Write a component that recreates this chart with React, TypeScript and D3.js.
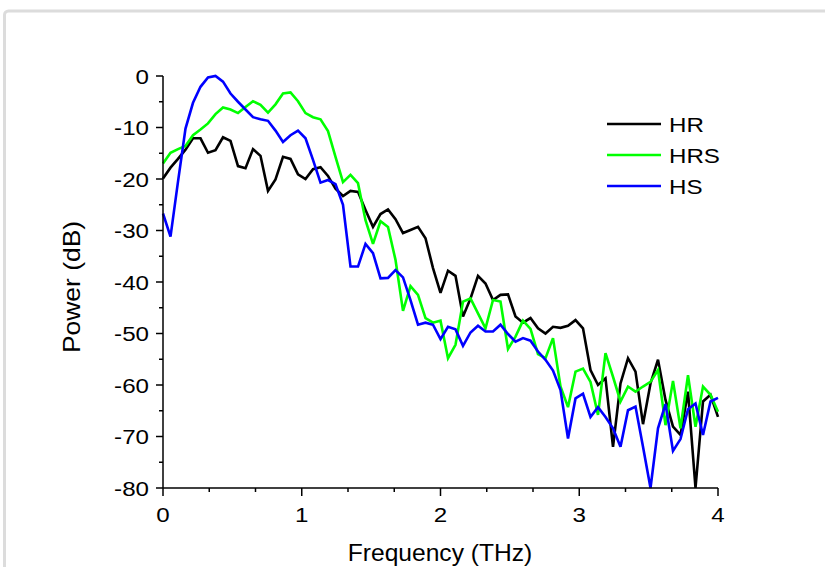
import React from "react";
import * as d3 from "d3";

const seriesNames = ["HR", "HRS", "HS"];
const seriesColors = ["#000000", "#00ff00", "#0000ff"];

const HR = [
  -19.9, -17.8, -16.1, -14.3, -12.1, -12.1, -14.9, -14.4, -11.9, -12.6,
  -17.5, -17.9, -14.2, -15.5, -22.3, -20.1, -15.7, -16.1, -19.1, -20,
  -18.1, -17.7, -19.4, -21.9, -23.3, -22.3, -22.5, -26, -29.3, -26.8,
  -25.9, -27.8, -30.5, -29.9, -29.3, -31.5, -37.3, -42.1, -37.8, -38.8,
  -46.7, -43.2, -38.8, -40.3, -43.5, -42.5, -42.4, -46.7, -47.9, -47,
  -49, -50, -48.7, -48.9, -48.5, -47.4, -49, -57.1, -60, -58.7,
  -72, -59.7, -54.8, -57.4, -67.6, -59.7, -55.1, -62.9, -68.1, -69.7,
  -61.3, -80, -63.2, -61.9, -66.2,
];

const HRS = [
  -17, -14.9, -14.2, -13.6, -11.5, -10.4, -9.2, -7.4, -6.1, -6.5,
  -7.2, -6, -4.9, -5.6, -7.1, -5.5, -3.4, -3.2, -4.9, -7.2,
  -8, -8.4, -10.7, -15.7, -20.6, -19.2, -20.8, -28, -32.6, -28.2,
  -29.3, -35.7, -45.6, -40.8, -42.5, -47, -47.9, -47.5, -54.8, -52.2,
  -43.8, -43.2, -46.1, -49, -43.5, -43.8, -53, -50.6, -47.5, -49.1,
  -54, -54.8, -50.9, -60.3, -64.3, -57.4, -56.8, -59.4, -65.8, -53.8,
  -58.4, -63.2, -60.3, -61.3, -60.3, -59.4, -57.1, -67.8, -59.2, -68.4,
  -58.1, -68.1, -60.3, -61.9, -65.2,
];

const HS = [
  -26.7, -31.2, -20.5, -10.2, -5.2, -2.1, -0.3, 0, -1.1, -3.4,
  -5, -6.5, -8, -8.4, -8.7, -10.6, -12.8, -11.5, -10.6, -12.1,
  -16.3, -20.7, -20.2, -21, -25, -37, -37, -32.6, -34.4, -39.3,
  -39.2, -37.7, -39.1, -43.5, -48.3, -47.9, -48.3, -51.1, -48.7, -49.2,
  -52.4, -49.8, -48.5, -49.6, -49.6, -48.3, -50.1, -51.6, -50.9, -51.4,
  -53.5, -55.1, -57.2, -61, -70.4, -62.6, -61.7, -66.2, -64.3, -66.2,
  -68.4, -72, -64.9, -64.2, -72, -80, -68.4, -63.7, -72.8, -70.5,
  -64.7, -63.6, -69.7, -63.2, -62.5,
];

const fMax = 4;
const nSteps = 74;
const xTicks = [0, 1, 2, 3, 4];
const yTicks = [0, -10, -20, -30, -40, -50, -60, -70, -80];
const xLabel = "Frequency (THz)";
const yLabel = "Power (dB)";

const W = 825;
const H = 567;
const FONT = "'Liberation Sans', Arial, Helvetica, sans-serif";

function SText({ x, y, size, sx = 1.15, anchor = "start", rotate = 0, children, dy = "0" }: any) {
  return (
    <g transform={`translate(${x},${y}) rotate(${rotate}) scale(${sx},1)`}>
      <text x={0} y={0} dy={dy} fontSize={size} fontFamily={FONT} textAnchor={anchor} fill="#000">
        {children}
      </text>
    </g>
  );
}

export default function App() {
  const left = 163, right = 718, top = 76, bottom = 488;
  const x = d3.scaleLinear().domain([0, fMax]).range([left, right]);
  const y = d3.scaleLinear().domain([-80, 0]).range([bottom, top]);
  const freqs = d3.range(nSteps + 1).map((i) => (i * fMax) / nSteps);
  const data = [HR, HRS, HS];
  const line = d3
    .line<number>()
    .x((_, i) => x(freqs[i]))
    .y((d) => y(d));

  const xMinor = d3.range(0, 12).map((i) => i / 3).filter((v) => Math.abs(v - Math.round(v)) > 1e-6);
  const yMinor = d3.range(-75, 0, 10);

  const legendX0 = 607, legendX1 = 661, legendY0 = 124, legendDy = 31;

  return (
    <svg width={W} height={H} style={{ position: "absolute", left: 0, top: 0, background: "#fff" }}>
      <rect x={0} y={0} width={W} height={H} fill="#fff" />
      <rect x={4.5} y={11} width={W + 40} height={H + 40} rx={4} fill="none" stroke="#dcdcdc" strokeWidth={3} />

      {/* lines */}
      {data.map((s, k) => (
        <path key={k} d={line(s) || ""} fill="none" stroke={seriesColors[k]} strokeWidth={2.6} strokeLinejoin="miter" strokeMiterlimit={3} />
      ))}

      {/* axes */}
      <line x1={left} x2={left} y1={top} y2={bottom} stroke="#000" strokeWidth={1.5} />
      <line x1={left} x2={right} y1={bottom} y2={bottom} stroke="#000" strokeWidth={1.5} />
      {xTicks.map((t) => (
        <g key={"xt" + t}>
          <line x1={x(t)} x2={x(t)} y1={bottom} y2={bottom + 8} stroke="#000" strokeWidth={1.5} />
          <SText x={x(t)} y={522} size={21} anchor="middle">{String(t)}</SText>
        </g>
      ))}
      {xMinor.map((t) => (
        <line key={"xm" + t} x1={x(t)} x2={x(t)} y1={bottom} y2={bottom + 4} stroke="#000" strokeWidth={1.5} />
      ))}
      {yTicks.map((t) => (
        <g key={"yt" + t}>
          <line x1={left - 7} x2={left} y1={y(t)} y2={y(t)} stroke="#000" strokeWidth={1.5} />
          <SText x={149} y={y(t)} size={21} anchor="end" dy="0.36em">{String(t)}</SText>
        </g>
      ))}
      {yMinor.map((t) => (
        <line key={"ym" + t} x1={left - 4} x2={left} y1={y(t)} y2={y(t)} stroke="#000" strokeWidth={1.5} />
      ))}

      {/* axis titles */}
      <SText x={440} y={561} size={23} anchor="middle" sx={1.07}>{xLabel}</SText>
      <SText x={80} y={287} size={23} anchor="middle" sx={1.15} rotate={-90}>{yLabel}</SText>

      {/* legend */}
      {seriesNames.map((n, k) => (
        <g key={n}>
          <line x1={legendX0} x2={legendX1} y1={legendY0 + k * legendDy} y2={legendY0 + k * legendDy} stroke={seriesColors[k]} strokeWidth={2.6} />
          <SText x={669} y={legendY0 + k * legendDy} size={21} dy="0.36em">{n}</SText>
        </g>
      ))}
    </svg>
  );
}
